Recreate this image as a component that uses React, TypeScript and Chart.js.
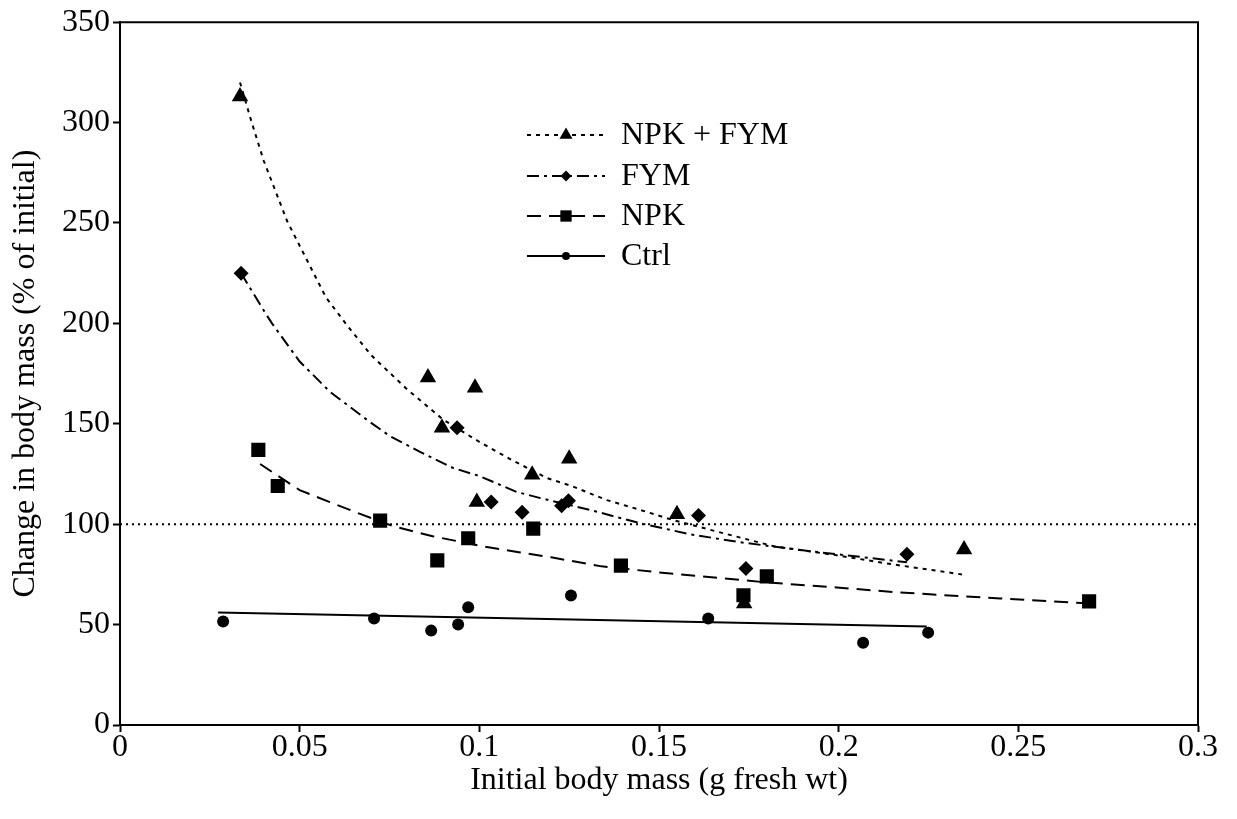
import React, { useEffect, useRef } from 'react';
import { Chart, registerables } from 'chart.js';

Chart.register(...registerables);

// ---------- data ----------
const xTickValues = [0, 0.05, 0.1, 0.15, 0.2, 0.25, 0.3];
const xTickLabels = ['0', '0.05', '0.1', '0.15', '0.2', '0.25', '0.3'];
const yTickValues = [0, 50, 100, 150, 200, 250, 300, 350];
const yTickLabels = ['0', '50', '100', '150', '200', '250', '300', '350'];

const seriesNames = ['NPK + FYM', 'FYM', 'NPK', 'Ctrl'];

// observed points
const npkFymX = [0.0334, 0.0857, 0.0988, 0.0896, 0.0993, 0.1147, 0.125, 0.155, 0.1737, 0.2349];
const npkFymY = [313, 173, 168, 148, 111, 124.6, 132.6, 105, 60.5, 87.4];

const fymX = [0.0337, 0.0938, 0.1033, 0.1119, 0.1229, 0.1248, 0.161, 0.1742, 0.219];
const fymY = [225, 148, 111, 106, 109.2, 111.7, 104.3, 78, 85];

const npkX = [0.0385, 0.0439, 0.0724, 0.0883, 0.0969, 0.115, 0.1394, 0.1735, 0.18, 0.2697];
const npkY = [137, 119, 101.8, 82, 93, 97.8, 79.4, 64.6, 74, 61.6];

const ctrlX = [0.0287, 0.0707, 0.0866, 0.0941, 0.0969, 0.1255, 0.1637, 0.2068, 0.2249];
const ctrlY = [51.6, 53, 47, 50, 58.6, 64.5, 53, 41, 46];

// fitted curves
const npkFymFitX = [0.0334, 0.0365, 0.04, 0.0465, 0.0573, 0.0632, 0.07, 0.08, 0.09, 0.1, 0.109, 0.1188, 0.1257, 0.1355, 0.145, 0.154, 0.169, 0.182, 0.1995, 0.215, 0.2343];
const npkFymFitY = [320, 301, 281, 251, 213, 199, 184, 167, 152, 141, 132, 123, 119, 112, 107, 102, 95, 89, 84.5, 80, 75];

const fymFitX = [0.0337, 0.0398, 0.0423, 0.05, 0.0584, 0.0687, 0.075, 0.0835, 0.0927, 0.1, 0.1105, 0.117, 0.131, 0.1447, 0.1586, 0.1726, 0.19, 0.2143, 0.219];
const fymFitY = [225, 207, 200, 181, 166, 152, 144, 136, 128, 124, 116, 113, 107, 100.5, 95, 91, 87, 82, 81];

const npkFitX = [0.039, 0.044, 0.05, 0.0584, 0.067, 0.076, 0.087, 0.101, 0.111, 0.12, 0.134, 0.15, 0.162, 0.18, 0.1995, 0.217, 0.245, 0.269];
const npkFitY = [130, 124, 117, 111, 105, 99, 94, 89, 86, 83.5, 79, 76, 74, 71, 68.5, 66, 63, 60.6];

const ctrlFitX = [0.0273, 0.2245];
const ctrlFitY = [56, 49];

const refX = [0, 0.3];
const refY = [100, 100];

// ---------- helpers ----------
const zip = (xs: number[], ys: number[]) => xs.map((x, i) => ({ x, y: ys[i] }));
const FONT_FAMILY = '"Liberation Serif", "Times New Roman", serif';
const FONT_SIZE = 32;

const markerStyles = ['triangle', 'rectRot', 'rect', 'circle'];
const markerRadii = [9.5, 7.5, 10, 6];
const fitDashes = [[4, 5], [12, 5, 3, 5], [14, 8], []];

function drawMarker(ctx: CanvasRenderingContext2D, style: string, x: number, y: number, r: number) {
  ctx.beginPath();
  if (style === 'triangle') {
    ctx.moveTo(x, y - r);
    ctx.lineTo(x + r * Math.sin((2 * Math.PI) / 3), y - r * Math.cos((2 * Math.PI) / 3));
    ctx.lineTo(x + r * Math.sin((4 * Math.PI) / 3), y - r * Math.cos((4 * Math.PI) / 3));
    ctx.closePath();
  } else if (style === 'rectRot') {
    ctx.moveTo(x, y - r);
    ctx.lineTo(x + r, y);
    ctx.lineTo(x, y + r);
    ctx.lineTo(x - r, y);
    ctx.closePath();
  } else if (style === 'rect') {
    const s = r * Math.SQRT1_2;
    ctx.rect(x - s, y - s, 2 * s, 2 * s);
  } else {
    ctx.arc(x, y, r, 0, Math.PI * 2);
  }
  ctx.fill();
}

const framePlugin = {
  id: 'frameAndLegend',
  afterDraw(chart: any) {
    const { ctx, chartArea } = chart;
    ctx.save();
    ctx.strokeStyle = '#000';
    ctx.lineWidth = 2;
    ctx.setLineDash([]);
    ctx.beginPath();
    ctx.moveTo(chartArea.left, chartArea.top);
    ctx.lineTo(chartArea.right, chartArea.top);
    ctx.lineTo(chartArea.right, chartArea.bottom);
    ctx.stroke();

    // legend
    const rowsY = [135, 176, 216, 256];
    const x0 = 527;
    const x1 = 605;
    const xm = (x0 + x1) / 2;
    ctx.fillStyle = '#000';
    ctx.font = `${FONT_SIZE}px ${FONT_FAMILY}`;
    ctx.textBaseline = 'middle';
    ctx.textAlign = 'left';
    seriesNames.forEach((name, i) => {
      const y = rowsY[i];
      ctx.setLineDash(fitDashes[i]);
      ctx.lineWidth = 2;
      ctx.beginPath();
      ctx.moveTo(x0, y);
      ctx.lineTo(x1, y);
      ctx.stroke();
      ctx.setLineDash([]);
      drawMarker(ctx, markerStyles[i], xm, y, markerRadii[i] - 2);
      ctx.fillText(name, 621, y + 1);
    });
    ctx.restore();
  },
};

export default function App() {
  const ref = useRef<HTMLCanvasElement | null>(null);

  useEffect(() => {
    document.body.style.margin = '0';
    const canvas = ref.current;
    if (!canvas) return;
    const font = { family: FONT_FAMILY, size: FONT_SIZE };

    const markerSets = [
      zip(npkFymX, npkFymY),
      zip(fymX, fymY),
      zip(npkX, npkY),
      zip(ctrlX, ctrlY),
    ];
    const fitSets = [
      zip(npkFymFitX, npkFymFitY),
      zip(fymFitX, fymFitY),
      zip(npkFitX, npkFitY),
      zip(ctrlFitX, ctrlFitY),
    ];

    const datasets: any[] = [];
    markerSets.forEach((data, i) => {
      datasets.push({
        label: seriesNames[i],
        data,
        showLine: false,
        pointStyle: markerStyles[i],
        pointRadius: markerRadii[i],
        pointBackgroundColor: '#000',
        pointBorderColor: '#000',
        pointBorderWidth: 0,
      });
    });
    fitSets.forEach((data, i) => {
      datasets.push({
        label: seriesNames[i] + ' fit',
        data,
        showLine: true,
        pointRadius: 0,
        borderColor: '#000',
        borderWidth: 2,
        borderDash: fitDashes[i],
        tension: 0,
        fill: false,
      });
    });
    datasets.push({
      label: 'ref',
      data: zip(refX, refY),
      showLine: true,
      pointRadius: 0,
      borderColor: '#000',
      borderWidth: 2,
      borderDash: [2, 4],
      fill: false,
    });

    const chart = new Chart(canvas, {
      type: 'scatter',
      data: { datasets },
      options: {
        animation: false,
        responsive: false,
        layout: { padding: { top: 20, right: 39, left: 0, bottom: 0 } },
        plugins: { legend: { display: false }, tooltip: { enabled: false } },
        scales: {
          x: {
            type: 'linear',
            min: 0,
            max: 0.3,
            afterBuildTicks: (axis: any) => {
              axis.ticks = xTickValues.map((v) => ({ value: v }));
            },
            afterFit: (axis: any) => {
              axis.height = 94;
            },
            ticks: {
              callback: (_v: any, i: number) => xTickLabels[i],
              font,
              color: '#000',
              padding: -4,
              maxRotation: 0,
              autoSkip: false,
            },
            grid: {
              drawOnChartArea: false,
              drawTicks: true,
              tickLength: 7,
              tickColor: '#000',
              tickWidth: 2,
            },
            border: { display: true, color: '#000', width: 2 },
            title: {
              display: true,
              text: 'Initial body mass (g fresh wt)',
              font,
              color: '#000',
              padding: { top: 0, bottom: 19 },
            },
          },
          y: {
            type: 'linear',
            min: 0,
            max: 350,
            afterBuildTicks: (axis: any) => {
              axis.ticks = yTickValues.map((v) => ({ value: v }));
            },
            afterFit: (axis: any) => {
              axis.width = 120;
            },
            ticks: {
              callback: (_v: any, i: number) => yTickLabels[i],
              font,
              color: '#000',
              padding: 3,
              autoSkip: false,
            },
            grid: {
              drawOnChartArea: false,
              drawTicks: true,
              tickLength: 7,
              tickColor: '#000',
              tickWidth: 2,
            },
            border: { display: true, color: '#000', width: 2 },
            title: {
              display: true,
              text: 'Change in body mass (% of initial)',
              font,
              color: '#000',
              padding: { top: 6, bottom: 0 },
            },
          },
        },
      },
      plugins: [framePlugin],
    });
    return () => chart.destroy();
  }, []);

  return (
    <div style={{ width: 1237, height: 819 }}>
      <canvas ref={ref} width={1237} height={819} style={{ display: 'block' }} />
    </div>
  );
}
